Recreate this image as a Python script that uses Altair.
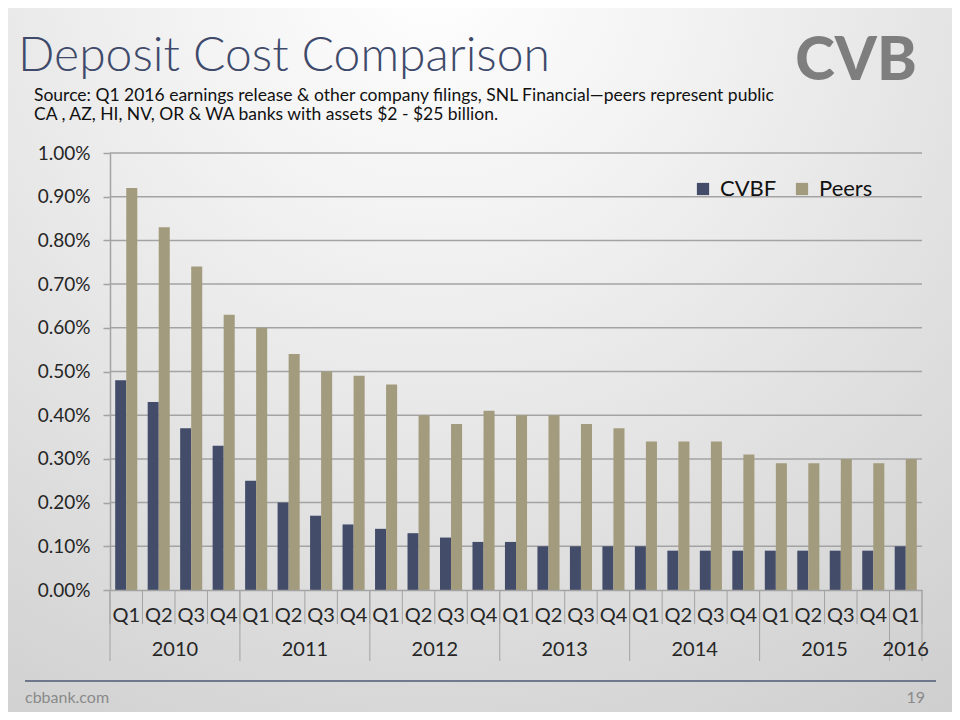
import altair as alt
import pandas as pd

# ---------------- data ----------------
years = ["2010"] * 4 + ["2011"] * 4 + ["2012"] * 4 + ["2013"] * 4 + ["2014"] * 4 + ["2015"] * 4 + ["2016"]
quarters = ["Q1", "Q2", "Q3", "Q4"] * 6 + ["Q1"]
cvbf = [0.48, 0.43, 0.37, 0.33, 0.25, 0.20, 0.17, 0.15, 0.14, 0.13, 0.12, 0.11,
        0.11, 0.10, 0.10, 0.10, 0.10, 0.09, 0.09, 0.09, 0.09, 0.09, 0.09, 0.09, 0.10]
peers = [0.92, 0.83, 0.74, 0.63, 0.60, 0.54, 0.50, 0.49, 0.47, 0.40, 0.38, 0.41,
         0.40, 0.40, 0.38, 0.37, 0.34, 0.34, 0.34, 0.31, 0.29, 0.29, 0.30, 0.29, 0.30]
series = ["CVBF", "Peers"]
colors = ["#434D6A", "#A39B7D"]
y_ticks = [0.0, 0.1, 0.2, 0.3, 0.4, 0.5, 0.6, 0.7, 0.8, 0.9, 1.0]

title_text = "Deposit Cost Comparison"
source_lines = [
    "Source: Q1 2016 earnings release & other company filings, SNL Financial\u2014peers represent public",
    "CA , AZ, HI, NV, OR & WA banks with assets $2 - $25 billion.",
]
footer_left = "cbbank.com"
footer_right = "19"
logo_text = "CVB"

# ---------------- tables ----------------
keys = [f"{y} {q}" for y, q in zip(years, quarters)]
n = len(keys)
bars_df = pd.DataFrame({
    "key": keys * 2,
    "series": [series[0]] * n + [series[1]] * n,
    "value": cvbf + peers,
})
grid_df = pd.DataFrame({"value": y_ticks[1:]})
sepq_df = pd.DataFrame({"pos": list(range(n + 1))})
year_idx = {}
for i, y in enumerate(years):
    year_idx.setdefault(y, []).append(i)
sepy_df = pd.DataFrame({"pos": [v[0] for v in year_idx.values()] + [n]})
yr_df = pd.DataFrame({
    "year": list(year_idx.keys()),
    "center": [(v[0] + v[-1] + 1) / 2 for v in year_idx.values()],
})

# ---------------- layout ----------------
FONT = "Lato"
W, H = 812, 437
PAD_L, PAD_T = 102, 145
TOTAL_W, TOTAL_H = 944, 704
GRID = "#A3A3A3"
TXT = "#262626"

one = pd.DataFrame({"a": [0]})
qscale = alt.Scale(domain=[0, n], nice=False, zero=False)
yscale = alt.Scale(domain=[0, 1], nice=False)
y_axis = alt.Axis(title=None, values=y_ticks, grid=False,
                  labelExpr="format(datum.value, '.2f') + '%'",
                  labelFont=FONT, labelFontSize=19, labelColor=TXT,
                  tickSize=7, tickColor=GRID, tickWidth=1.5, labelPadding=13,
                  domainColor=GRID, domainWidth=1.5, zindex=1)

bg = alt.Chart(one).mark_rect(
    fill=alt.RadialGradient(
        gradient="radial", x1=0.45, y1=0.08, r1=0, x2=0.45, y2=0.08, r2=0.95,
        stops=[alt.GradientStop(color="#FFFFFF", offset=0),
               alt.GradientStop(color="#F2F2F2", offset=0.3),
               alt.GradientStop(color="#CFCFCF", offset=1)],
    )
).encode(
    x=alt.value(-PAD_L), x2=alt.value(TOTAL_W - PAD_L),
    y=alt.value(-PAD_T), y2=alt.value(TOTAL_H - PAD_T),
)

grid = alt.Chart(grid_df).mark_rule(color=GRID, strokeWidth=1.5).encode(
    y=alt.Y("value:Q", scale=yscale, axis=y_axis),
    x=alt.value(0), x2=alt.value(W),
)

bars = alt.Chart(bars_df).mark_bar().encode(
    x=alt.X("key:N", scale=alt.Scale(domain=keys, paddingInner=0.32, paddingOuter=0.16),
            axis=alt.Axis(title=None, labelExpr="split(datum.value, ' ')[1]", ticks=False,
                          labelAngle=0, labelFont=FONT, labelFontSize=20, labelColor=TXT,
                          labelPadding=15, domainColor=GRID, domainWidth=1.5, zindex=1)),
    xOffset=alt.XOffset("series:N", scale=alt.Scale(domain=series, paddingInner=0, paddingOuter=0)),
    y=alt.Y("value:Q", scale=yscale, axis=y_axis),
    color=alt.Color("series:N", scale=alt.Scale(domain=series, range=colors),
                    legend=alt.Legend(title=None, orient="none", legendX=582, legendY=25,
                                      direction="horizontal", symbolType="square",
                                      symbolSize=150, symbolStrokeWidth=0,
                                      labelFont=FONT, labelFontSize=22, labelColor="#111111",
                                      labelOffset=6, columnPadding=14, padding=0)),
)

sep_q = alt.Chart(sepq_df).mark_rule(color=GRID, strokeWidth=1).encode(
    x=alt.X("pos:Q", scale=qscale, axis=None),
    y=alt.value(H), y2=alt.value(H + 34),
)
sep_y = alt.Chart(sepy_df).mark_rule(color=GRID, strokeWidth=1).encode(
    x=alt.X("pos:Q", scale=qscale, axis=None),
    y=alt.value(H), y2=alt.value(H + 71),
)
year_text = alt.Chart(yr_df).mark_text(font=FONT, fontSize=20, color=TXT, baseline="middle").encode(
    x=alt.X("center:Q", scale=qscale, axis=None),
    y=alt.value(H + 60),
    text="year:N",
)


def label(txt, x, y, size, color, align="left", baseline="alphabetic", weight="normal"):
    return alt.Chart(one).mark_text(
        font=FONT, fontSize=size, color=color, align=align, baseline=baseline,
        fontWeight=weight,
    ).encode(x=alt.value(x), y=alt.value(y), text=alt.value(txt))


title = label(title_text, -92, -82, 48, "#3F4A6B", weight=300)
src1 = label(source_lines[0], -76, -52, 17.5, "#111111")
src2 = label(source_lines[1], -76, -33, 17.5, "#111111")
logo = label(logo_text, 746, -73, 60, "#7E7E7E", align="center", weight=900)
foot_line = alt.Chart(one).mark_rule(color="#4E5872", strokeWidth=1.5).encode(
    x=alt.value(-85), x2=alt.value(826), y=alt.value(528), y2=alt.value(528),
)
foot_l = label(footer_left, -85, 545, 16, "#8A8A8A", baseline="middle")
foot_r = label(footer_right, 815, 545, 16, "#8A8A8A", align="right", baseline="middle")

chart = alt.layer(
    bg, grid, bars, sep_q, sep_y, year_text,
    title, src1, src2, logo, foot_line, foot_l, foot_r,
).resolve_scale(x="independent").properties(
    width=W, height=H,
    autosize=alt.AutoSizeParams(type="none"),
    padding={"left": PAD_L, "top": PAD_T, "right": TOTAL_W - PAD_L - W, "bottom": TOTAL_H - PAD_T - H},
).configure_view(stroke=None)

chart.save("out.html", embed_options={"renderer": "svg", "actions": False})
